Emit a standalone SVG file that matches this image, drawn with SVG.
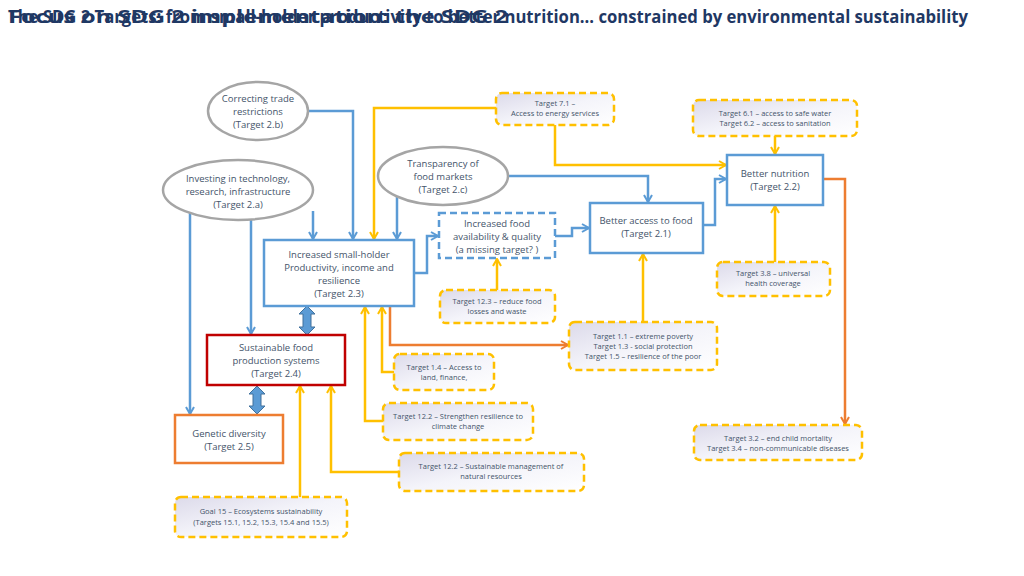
<svg xmlns="http://www.w3.org/2000/svg" width="1024" height="576" viewBox="0 0 1024 576">
<style>
text{font-family:"Open Sans","Liberation Sans",sans-serif;fill:#44546A;text-anchor:middle}
.t{font-size:9.5px}.s{font-size:7.5px}
.title{font-size:17px;font-weight:bold;fill:#1F3864;text-anchor:start;font-family:"Open Sans","Liberation Sans",sans-serif}
.el{fill:#fff;stroke:#A5A5A5;stroke-width:2.5}
.bb{fill:#fff;stroke:#5B9BD5;stroke-width:2.5}
.yb{fill:url(#g);stroke:#FFC000;stroke-width:2.5;stroke-dasharray:7 4}
.cb{fill:none;stroke:#5B9BD5;stroke-width:2.5;marker-end:url(#ab)}
.cy{fill:none;stroke:#FFC000;stroke-width:2.5;marker-end:url(#ay)}
.co{fill:none;stroke:#ED7D31;stroke-width:2.5;marker-end:url(#ao)}
</style>
<defs>
<linearGradient id="g" x1="0" y1="0" x2="1" y2="1"><stop offset="0" stop-color="#DCDAEA"/><stop offset="0.5" stop-color="#F4F4FA"/><stop offset="1" stop-color="#FFFFFF"/></linearGradient>
<marker id="ab" markerWidth="10" markerHeight="10" refX="8" refY="5" orient="auto" markerUnits="userSpaceOnUse"><path d="M1,1 L8,5 L1,9" fill="none" stroke="#5B9BD5" stroke-width="2"/></marker>
<marker id="ay" markerWidth="10" markerHeight="10" refX="8" refY="5" orient="auto" markerUnits="userSpaceOnUse"><path d="M1,1 L8,5 L1,9" fill="none" stroke="#FFC000" stroke-width="2"/></marker>
<marker id="ao" markerWidth="10" markerHeight="10" refX="8" refY="5" orient="auto" markerUnits="userSpaceOnUse"><path d="M1,1 L8,5 L1,9" fill="none" stroke="#ED7D31" stroke-width="2"/></marker>
</defs>
<rect width="1024" height="576" fill="#fff"/>
<text class="title" x="8" y="23" textLength="960" lengthAdjust="spacingAndGlyphs">The SDG 2 Targets: from small-holder productivity to better nutrition… constrained by environmental sustainability</text>
<text class="title" x="8" y="23" textLength="500" lengthAdjust="spacingAndGlyphs">Focus on SDG 2 implementation: the SDG 2</text>

<g id="connectors">
<path class="cb" d="M308,111 H353 V239"/>
<path class="cb" d="M190,206 V414"/>
<path class="cb" d="M251,219 V334"/>
<path class="cb" d="M313,211 V239"/>
<path class="cb" d="M397,196 V239"/>
<path class="cb" d="M508,176 H648 V202"/>
<path class="cy" d="M496,108 H374 V239"/>
<path class="cy" d="M555,125 V165 H726"/>
<path class="cb" d="M414,273 H427 V236 H438"/>
<path class="cb" d="M555,236 H572 V228 H589"/>
<path class="cb" d="M703,225 H715 V179 H726"/>
<path class="cy" d="M775,136 V154"/>
<path class="cy" d="M775,262 V206"/>
<path class="co" d="M823,179 H845 V424"/>
<path class="cy" d="M497,290 V259"/>
<path class="cy" d="M643,322 V254"/>
<path class="co" d="M390,306 V345 H568"/>
<path class="cy" d="M394,372 H382 V307"/>
<path class="cy" d="M383,421 H365 V307"/>
<path class="cy" d="M399,472 H331 V386"/>
<path class="cy" d="M300,497 V386"/>
<path d="M307,306 L315,314 L311,314 L311,327 L315,327 L307,335 L299,327 L303,327 L303,314 L299,314 Z" fill="#5B9BD5" stroke="#41719C" stroke-width="1"/>
<path d="M257,386 L265,394 L261,394 L261,406 L265,406 L257,414 L249,406 L253,406 L253,394 L249,394 Z" fill="#5B9BD5" stroke="#41719C" stroke-width="1"/>
</g>

<g id="n2b"><ellipse class="el" cx="258" cy="111" rx="50" ry="29"/><text class="t" x="258" y="102">Correcting  trade</text><text class="t" x="258" y="115">restrictions</text><text class="t" x="258" y="128">(Target 2.b)</text></g>
<g id="n2a"><ellipse class="el" cx="238" cy="190" rx="75" ry="30"/><text class="t" x="238" y="182">Investing in technology,</text><text class="t" x="238" y="195">research, infrastructure</text><text class="t" x="238" y="208">(Target 2.a)</text></g>
<g id="n2c"><ellipse class="el" cx="443" cy="176" rx="65" ry="29"/><text class="t" x="443" y="167">Transparency of</text><text class="t" x="443" y="180">food markets</text><text class="t" x="443" y="193">(Target 2.c)</text></g>
<g id="n23"><rect class="bb" x="264" y="240" width="150" height="66"/><text class="t" x="339" y="258">Increased small-holder</text><text class="t" x="339" y="271">Productivity, income and</text><text class="t" x="339" y="284">resilience</text><text class="t" x="339" y="297">(Target 2.3)</text></g>
<g id="navail"><rect x="439" y="213" width="116" height="45" fill="#fff" stroke="#5B9BD5" stroke-width="2.5" stroke-dasharray="7 4"/><text class="t" x="497" y="227">Increased food</text><text class="t" x="497" y="240">availability &amp; quality</text><text class="t" x="497" y="253">(a missing target? )</text></g>
<g id="n21"><rect class="bb" x="590" y="203" width="113" height="50"/><text class="t" x="646" y="224">Better access to food</text><text class="t" x="646" y="237">(Target 2.1)</text></g>
<g id="n22"><rect class="bb" x="727" y="155" width="96" height="50"/><text class="t" x="775" y="177">Better nutrition</text><text class="t" x="775" y="190">(Target 2.2)</text></g>
<g id="n24"><rect x="207" y="335" width="138" height="50" fill="#fff" stroke="#C00000" stroke-width="2.5"/><text class="t" x="276" y="351">Sustainable food</text><text class="t" x="276" y="364">production systems</text><text class="t" x="276" y="377">(Target 2.4)</text></g>
<g id="n25"><rect x="175" y="415" width="108" height="48" fill="#fff" stroke="#ED7D31" stroke-width="2.5"/><text class="t" x="229" y="437">Genetic diversity</text><text class="t" x="229" y="450">(Target 2.5)</text></g>

<g id="t71"><rect class="yb" x="496" y="93" width="118" height="32" rx="6"/><text class="s" x="555" y="106">Target 7.1 –</text><text class="s" x="555" y="116">Access  to energy services</text></g>
<g id="t61"><rect class="yb" x="693" y="100" width="164" height="36" rx="6"/><text class="s" x="775" y="116">Target 6.1 – access to safe water</text><text class="s" x="775" y="126">Target 6.2 – access to sanitation</text></g>
<g id="t38"><rect class="yb" x="717" y="262" width="113" height="34" rx="6"/><text class="s" x="773" y="276">Target 3.8  – universal</text><text class="s" x="773" y="286">health coverage</text></g>
<g id="t123"><rect class="yb" x="440" y="290" width="115" height="33" rx="6"/><text class="s" x="497" y="304">Target 12.3 – reduce food</text><text class="s" x="497" y="314">losses and waste</text></g>
<g id="t11"><rect class="yb" x="569" y="322" width="148" height="48" rx="6"/><text class="s" x="643" y="339">Target 1.1 – extreme poverty</text><text class="s" x="643" y="349">Target 1.3  -  social protection</text><text class="s" x="643" y="359">Target 1.5 – resilience of the poor</text></g>
<g id="t14"><rect class="yb" x="394" y="354" width="100" height="36" rx="6"/><text class="s" x="444" y="370">Target 1.4 – Access to</text><text class="s" x="444" y="380">land, finance,</text></g>
<g id="t122a"><rect class="yb" x="383" y="403" width="150" height="37" rx="6"/><text class="s" x="458" y="419">Target 12.2 – Strengthen resilience to</text><text class="s" x="458" y="429">climate change</text></g>
<g id="t122b"><rect class="yb" x="399" y="453" width="185" height="38" rx="6"/><text class="s" x="491" y="469">Target 12.2 – Sustainable management of</text><text class="s" x="491" y="479">natural resources</text></g>
<g id="g15"><rect class="yb" x="175" y="497" width="172" height="40" rx="6"/><text class="s" x="261" y="514">Goal 15 – Ecosystems sustainability</text><text class="s" x="261" y="525">(Targets 15.1, 15.2, 15.3, 15.4 and 15.5)</text></g>
<g id="t32"><rect class="yb" x="694" y="425" width="168" height="35" rx="6"/><text class="s" x="778" y="441">Target 3.2 – end child mortality</text><text class="s" x="778" y="451">Target 3.4 – non-communicable diseases</text></g>
</svg>
